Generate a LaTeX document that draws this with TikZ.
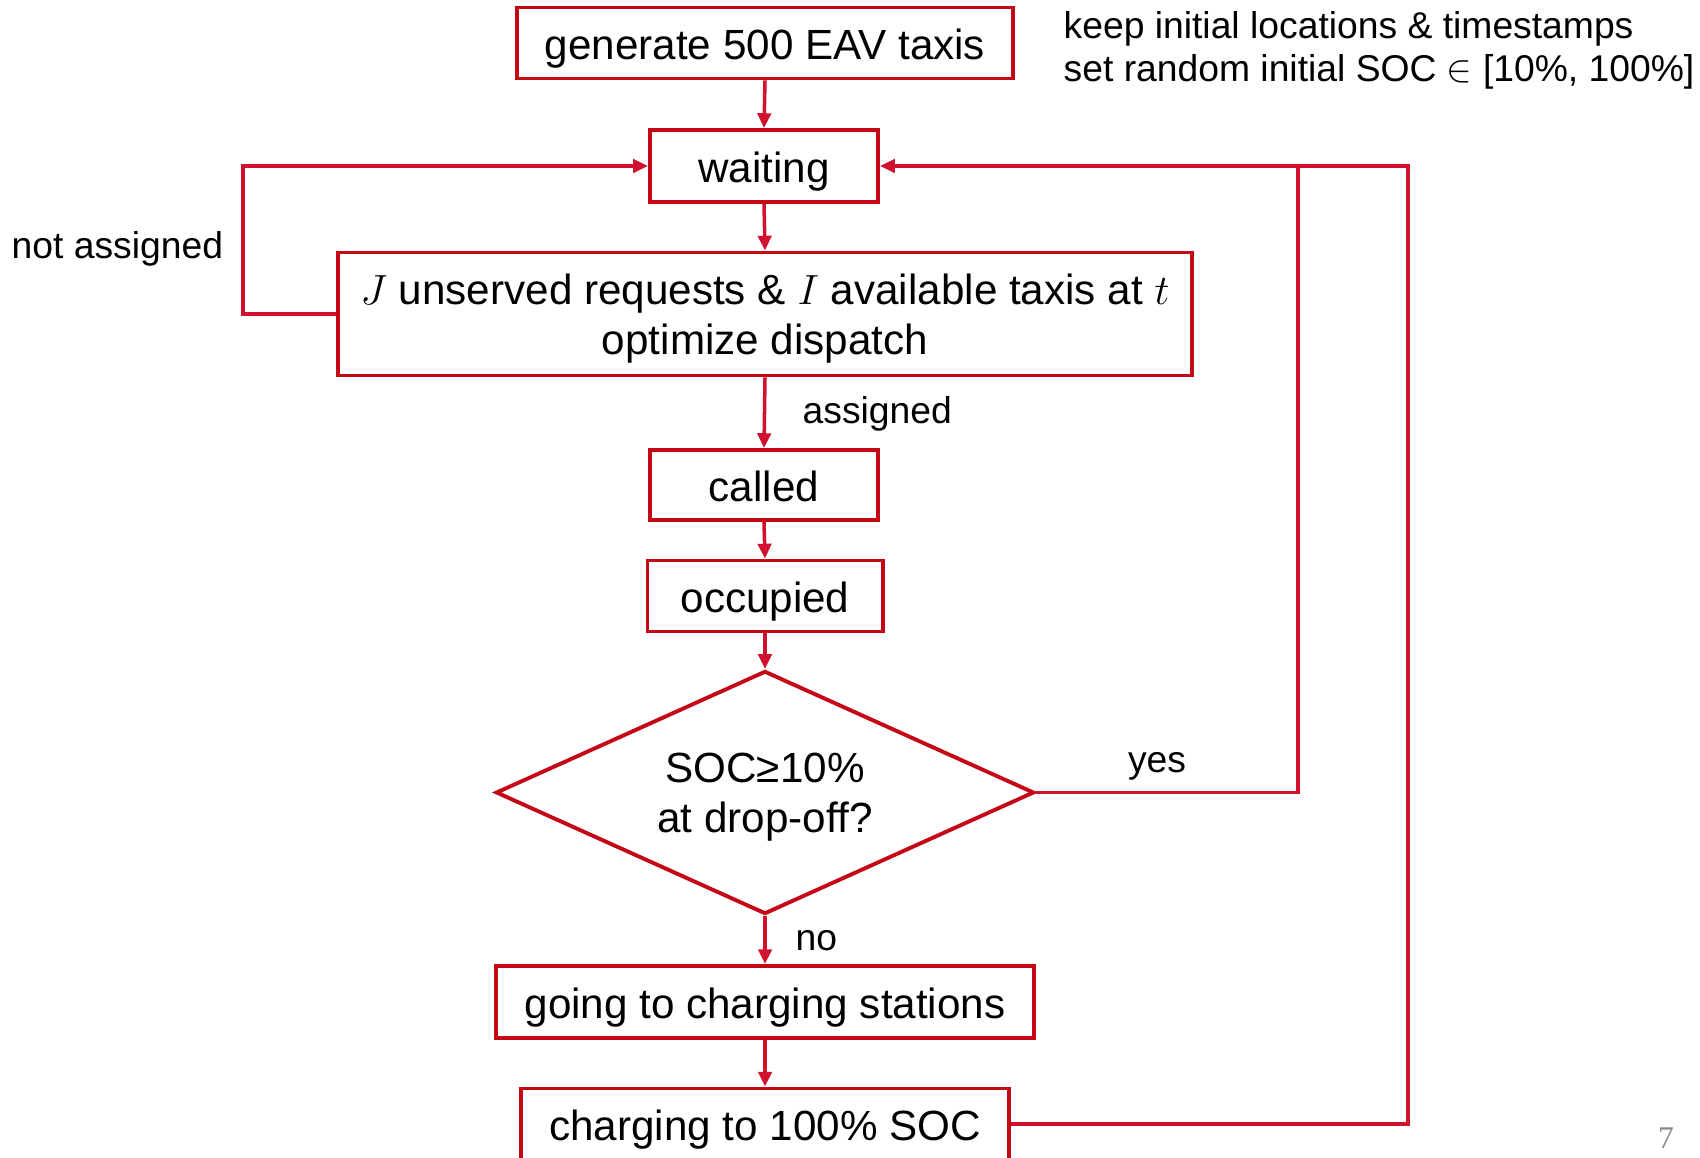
\documentclass[tikz,border=0pt]{standalone}
\usepackage{fontspec}
\setmainfont{Liberation Sans}
\newfontfamily\pagenumfont{Liberation Serif}
\usetikzlibrary{shapes.geometric,arrows.meta}
\definecolor{boxred}{RGB}{196,8,22}
\definecolor{linered}{RGB}{208,18,46}
\definecolor{pagegrey}{RGB}{140,140,140}
\begin{document}
\begin{tikzpicture}[x=0.01cm,y=-0.01cm,
  box/.style={draw=boxred,line width=1.1pt,inner sep=0pt,font=\fontsize{12}{14.2}\selectfont,align=center},
  onel/.style={box,text height=1.1em,text depth=0.16em},
  twol/.style={box,text depth=0pt},
  conn/.style={draw=linered,line width=1pt},
  arr/.style={conn,-{Triangle[length=4.2pt,width=3.8pt]}},
  lbl/.style={font=\fontsize{10.6}{12.2}\selectfont,inner sep=0pt}]
\useasboundingbox (0,0) rectangle (1700,1158);

\node[onel,minimum width=4.96cm,minimum height=0.71cm] (gen) at (765,43) {generate 500 EAV taxis};
\node[onel,minimum width=2.28cm,minimum height=0.72cm] (wait) at (764,166) {waiting};
\node[twol,minimum width=8.53cm,minimum height=1.23cm] (opt) at (765,314) {$J$ unserved requests \& $I$ available taxis at $t$\\optimize dispatch};
\node[onel,minimum width=2.28cm,minimum height=0.70cm] (called) at (764,485) {called};
\node[onel,minimum width=2.35cm,minimum height=0.71cm] (occ) at (765,596) {occupied};
\node[box,text depth=-1.2pt,shape=diamond,aspect=2.2,minimum width=5.38cm,minimum height=2.43cm] (dia) at (765,792.5) {SOC≥10\%\\at drop-off?};
\node[onel,minimum width=5.37cm,minimum height=0.72cm] (going) at (765,1002) {going to charging stations};
\node[onel,minimum width=4.87cm,minimum height=0.71cm] (charge) at (765,1124) {charging to 100\% SOC};

\node[lbl,anchor=west,align=left] (note) at (1063,50) {keep initial locations \& timestamps\\set random initial SOC $\in$ [10\%, 100\%]};
\node[lbl,anchor=west] (lnot) at (11,249) {not assigned};
\node[lbl,anchor=west] (lass) at (802,414) {assigned};
\node[lbl] (lyes) at (1157,766) {yes};
\node[lbl,anchor=west] (lno) at (795,941) {no};
\node[font=\pagenumfont\fontsize{9}{10}\selectfont,text=pagegrey,inner sep=0pt] (pnum) at (1666,1138) {7};

\coordinate (leftc) at (243,314);
\coordinate (yesc) at (1298,166);
\coordinate (outc) at (1408,166);

\draw[arr] (gen.south) -- (wait.north);
\draw[arr] (wait.south) -- (opt.north);
\draw[arr] (opt.south) -- (called.north);
\draw[arr] (called.south) -- (occ.north);
\draw[arr] (occ.south) -- (dia.north);
\draw[arr] (dia.south) -- (going.north);
\draw[arr] (going.south) -- (charge.north);
\draw[arr] (opt.west) -- (leftc) |- (wait.west);
\draw[arr] (dia.east) -| (yesc) -- (wait.east);
\draw[conn] (charge.east) -| (outc) -- (yesc);
\end{tikzpicture}
\end{document}
